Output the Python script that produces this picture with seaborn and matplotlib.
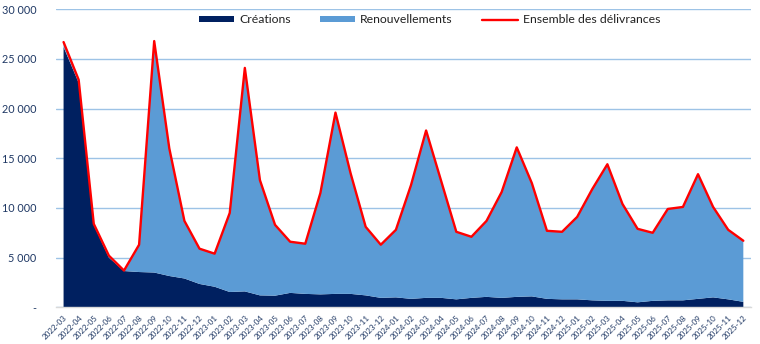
import numpy as np
import pandas as pd
import seaborn as sns
import matplotlib.pyplot as plt
from matplotlib.ticker import FuncFormatter, MultipleLocator

# Monthly values
mois = ["2022-03", "2022-04", "2022-05", "2022-06", "2022-07", "2022-08", "2022-09", "2022-10",
        "2022-11", "2022-12", "2023-01", "2023-02", "2023-03", "2023-04", "2023-05", "2023-06",
        "2023-07", "2023-08", "2023-09", "2023-10", "2023-11", "2023-12", "2024-01", "2024-02",
        "2024-03", "2024-04", "2024-05", "2024-06", "2024-07", "2024-08", "2024-09", "2024-10",
        "2024-11", "2024-12", "2025-01", "2025-02", "2025-03", "2025-04", "2025-05", "2025-06",
        "2025-07", "2025-08", "2025-09", "2025-10", "2025-11", "2025-12"]
creations = [26200, 22600, 8300, 5000, 3650, 3550, 3500, 3150, 2900, 2350,
             2070, 1540, 1600, 1200, 1170, 1450, 1350, 1300, 1350, 1350, 1200, 950,
             1000, 850, 950, 950, 800, 950, 1050, 950, 1050, 1100, 850, 800,
             800, 700, 650, 650, 500, 650, 700, 700, 850, 1000, 800, 550]
renouvellements = [500, 300, 100, 200, 50, 2750, 23300, 12850, 5800, 3550,
                   3330, 7960, 22500, 11600, 7130, 5150, 5050, 10200, 18250, 12150, 6900, 5350,
                   6800, 11450, 16850, 11750, 6800, 6150, 7650, 10650, 15050, 11400, 6850, 6800,
                   8300, 11200, 13750, 9750, 7400, 6850, 9200, 9400, 12550, 9100, 7000, 6150]

df = pd.DataFrame({"mois": mois, "creations": creations, "renouvellements": renouvellements})
df["ensemble"] = df["creations"] + df["renouvellements"]
df["x"] = np.arange(len(df))

sns.set_style("white")
plt.rcParams["font.family"] = ["Lato", "DejaVu Sans"]

navy = "#002060"
light = "#5B9BD5"
red = "#FF0000"
txt = "#1F3864"

fig = plt.figure(figsize=(7.6, 3.44), dpi=100)
ax = fig.add_axes([0.0737, 0.1067, 0.9143, 0.8663])

ax.stackplot(df["x"], df["creations"], df["renouvellements"],
             colors=[navy, light], labels=["Créations", "Renouvellements"],
             linewidth=0, edgecolor="none", zorder=2)
sns.lineplot(data=df, x="x", y="ensemble", color=red, linewidth=1.7,
             label="Ensemble des délivrances", ax=ax, zorder=3)

ax.set_xlim(-0.5, len(df) - 0.5)
ax.set_ylim(0, 30000)
ax.yaxis.set_major_locator(MultipleLocator(5000))
ax.yaxis.set_major_formatter(FuncFormatter(
    lambda v, p: "-" if v == 0 else f"{int(v):,}".replace(",", " ")))
ax.grid(axis="y", color="#9DC3E6", linewidth=1.0, zorder=0)
ax.set_axisbelow(True)

ax.set_xticks(df["x"])
ax.set_xticklabels(df["mois"], rotation=45, ha="right", rotation_mode="anchor")
ax.set_xticks(np.arange(-0.5, len(df), 1), minor=True)
ax.tick_params(axis="x", which="major", length=0, labelsize=5.8, labelcolor=txt, pad=5)
ax.tick_params(axis="x", which="minor", length=4, color="#D9D9D9", width=0.8)
ax.tick_params(axis="y", length=0, labelsize=7.8, labelcolor=txt, pad=14)

for s in ["top", "right", "left"]:
    ax.spines[s].set_visible(False)
ax.spines["bottom"].set_color("#D9D9D9")
ax.spines["bottom"].set_linewidth(1.0)

ax.set_xlabel("")
ax.set_ylabel("")
ax.legend_.remove()
handles, labels = ax.get_legend_handles_labels()
fig.legend(handles, labels, loc="center", bbox_to_anchor=(0.565, 0.942), ncol=3,
           frameon=False, fontsize=8.8, handlelength=2.9, handleheight=0.45,
           columnspacing=2.4, handletextpad=0.4, labelcolor="#222222")

plt.savefig("out.png", dpi=100)
